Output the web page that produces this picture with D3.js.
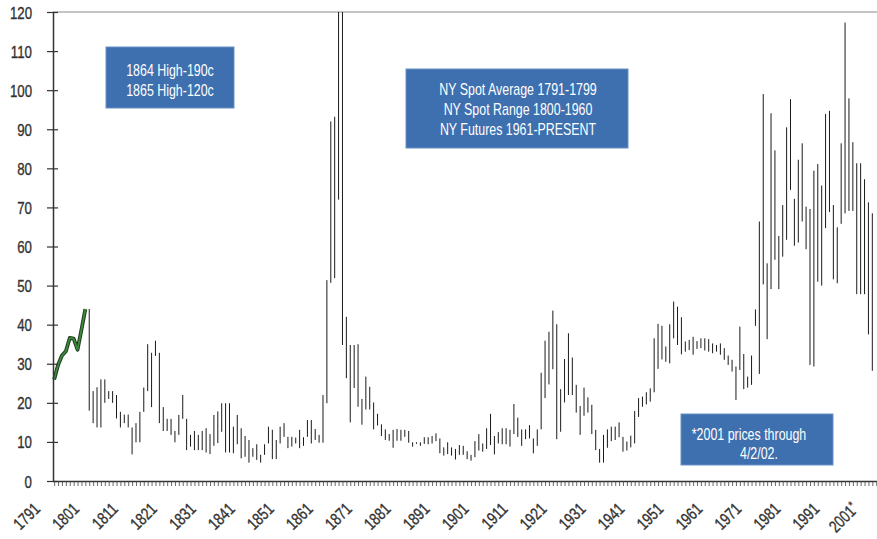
<!DOCTYPE html>
<html><head><meta charset="utf-8">
<script src="https://cdn.jsdelivr.net/npm/d3@7/dist/d3.min.js"></script>
<style>
html,body{margin:0;padding:0;background:#fff;}
svg{display:block;}
text{font-family:"Liberation Sans",Arial,sans-serif;}
</style></head><body>
<svg id="chart" width="877" height="539"></svg>
<script>
// ---- DATA ----
const avgYears = [1791,1792,1793,1794,1795,1796,1797,1798,1799];
const avgValues = [26,29.7,32.1,33.2,36.6,36.4,33.6,38.7,44];

const rangeStartYear = 1800;
const highs = [
44,23,24,26,26,23,23,22,17.7,17,
17,13.7,14.8,17.7,23.9,35,32.8,35.9,32.8,18.9,
15.9,15.9,12.8,16.9,22,15.9,11.8,12.8,11.8,12.8,
13.5,12,16.9,17.8,19.9,19.9,19.9,13.9,16.9,13.5,
11.5,10.5,8.4,9.4,6.7,9.4,13.9,13.1,10.5,13.9,
14.8,11.3,11.3,11.1,13.1,11.2,15.6,15.6,13.3,11.8,
22,51.4,92,93.2,190,120,42,34.8,34.8,35,
21,26.7,24.1,20.1,17.2,14.5,13.2,12,13.1,13.3,
13.1,13.1,12.8,9.9,9.9,9.9,11.2,11.2,11.5,12.2,
10.9,8.6,9.9,8.6,8.2,9.2,9,7.6,6.7,10.2,
12,9.6,13.5,17.2,11.5,12.5,13.5,13.5,13.1,19.7,
16.2,13.2,13.2,14.3,10.9,13.2,27.7,35.9,38.2,43.6,
40.1,23.5,31.2,37.8,31.6,24.6,19.2,23.9,21.4,19.5,
13.1,8.2,11.8,13.2,13.9,13.9,15,11.3,10.1,11.6,
17.9,21.2,21.6,22.7,23.7,36.5,40.2,39.7,34.4,40.1,
45.9,44.6,41.9,35.7,36.1,36.9,35.8,36.5,36.5,36.3,
35.2,34.8,35.2,34,32.1,31,29.3,39.5,32.5,26.7,
32.1,43.9,66.4,99,55.7,94.1,84.6,62.7,70.6,90.5,
97.7,72.2,82.2,86.4,70.2,69.6,79.4,81.1,75.6,93.9,
94.7,70.6,64.9,86.4,117.3,97.9,86.7,81.3,81.3,77.2,
71.3,68.5];
const lows = [
18,14.8,13.7,13.7,20,21,20,16,13.7,14.8,
13.7,6.8,9.9,9.9,17.7,23,18.9,32,14.8,12.8,
12.8,11.8,9.9,11.8,15.9,7.9,8.8,7.9,7.9,7.9,
7.3,6.9,9,9.7,12.6,7.3,7.3,7.1,9.4,5.8,
6.2,4.7,6.2,5.4,4.7,6.7,9.6,5.6,5.6,9.6,
11.3,8.4,8.8,9.6,8.4,9,11.3,9.6,10.5,9.8,
9.8,19.9,50.7,51.9,72,34.8,26.3,15,23.8,19,
14.4,18.3,18.3,13.2,14.2,11.5,10.5,10.3,8.5,10.3,
10.3,11.3,9.8,8.8,9.5,9,9.5,9.4,9.6,10.2,
7.1,6.5,6.9,6.5,5.5,6.7,6.7,5.6,5.2,6.1,
7.8,7.5,8.2,9.2,6.8,9.6,9.4,9.4,8.8,12,
11.3,9,10.7,10.9,7.1,9,13.2,21.2,24.7,28.6,
10.7,12.6,20.1,22,22,17.5,11.8,16.7,17.5,12,
7.9,4.7,4.7,8.5,10.2,10.5,11.2,7.5,7.8,8.6,
9.6,16.4,19,19.6,20.3,22.7,28.7,31.1,30.5,30.1,
36.5,34.8,32.4,33.1,33.5,32.3,33.8,34,33.4,33.1,
32.7,33.1,32.3,31,29.7,28,20.7,28.4,23.5,23.9,
24.6,39.7,27.4,50.3,36.3,49.1,56.6,49.1,57.4,61.7,
74.5,60.2,61,66.4,59.3,29.7,29.3,51,50,64.7,
68.8,51.6,50.6,65.8,68.5,69.1,69.1,47.8,47.8,47.8,
37.5,28.2];

const yTicks = [0,10,20,30,40,50,60,70,80,90,100,110,120];
const xLabelYears = [1791,1801,1811,1821,1831,1841,1851,1861,1871,1881,1891,1901,1911,1921,1931,1941,1951,1961,1971,1981,1991,2001];
const xLabelTexts = ["1791","1801","1811","1821","1831","1841","1851","1861","1871","1881","1891","1901","1911","1921","1931","1941","1951","1961","1971","1981","1991","2001"];
const xLabelMarks = ["","","","","","","","","","","","","","","","","","","","","","*"];
const minorTickYears = d3.range(1791, 2003);

const note1Lines = ["1864 High-190c","1865 High-120c"];
const note2Lines = ["NY Spot Average 1791-1799","NY Spot Range 1800-1960","NY Futures 1961-PRESENT"];
const note3Lines = ["*2001 prices through","4/2/02."];

// ---- CHART ----
(function(){
const svg = d3.select("#chart");
const pL = 53, pR = 877, pT = 12, pB = 481;
const x = d3.scaleLinear().domain([1790.7, 2002.2]).range([pL, pR]);
const y = d3.scaleLinear().domain([0, 120]).range([pB, pT]);
const SX = 0.78; // horizontal squeeze to imitate a condensed face

svg.append("defs").append("clipPath").attr("id","plotclip")
  .append("rect").attr("x", pL).attr("y", pT).attr("width", pR-pL).attr("height", pB-pT);

// top border line
svg.append("line").attr("x1", pL).attr("x2", pR).attr("y1", y(120)).attr("y2", y(120))
  .attr("stroke", "#8a8a8a").attr("stroke-width", 1.2);

// range bars
const rangeData = highs.map((h,i)=>({year: rangeStartYear+i, hi: h, lo: lows[i]}));
svg.append("g").attr("clip-path","url(#plotclip)")
  .selectAll("line").data(rangeData).join("line")
  .attr("x1", d=>x(d.year)).attr("x2", d=>x(d.year))
  .attr("y1", d=>y(d.lo)).attr("y2", d=>y(d.hi))
  .attr("stroke", "#1a1a1a").attr("stroke-width", 1);

// average line
const avgData = avgYears.map((yr,i)=>({year: yr, v: avgValues[i]}));
const lineGen = d3.line().x(d=>x(d.year)).y(d=>y(d.v));
svg.append("path").datum(avgData).attr("d", lineGen)
  .attr("fill","none").attr("stroke","#1f3a1f").attr("stroke-width",3.8).attr("stroke-linejoin","round");
svg.append("path").datum(avgData).attr("d", lineGen)
  .attr("fill","none").attr("stroke","#3d8a3d").attr("stroke-width",1.8).attr("stroke-linejoin","round");

// y axis
const yAxis = d3.axisLeft(y).tickValues(yTicks).tickSize(0).tickFormat("");
const gy = svg.append("g").attr("transform", `translate(${pL},0)`).call(yAxis);
gy.select(".domain").attr("stroke","#333").attr("stroke-width",1.5);
gy.selectAll(".tick line").remove();
gy.selectAll(".tick text").remove();
gy.selectAll(".tick").append("line").attr("x1",-6).attr("x2",5).attr("stroke","#333").attr("stroke-width",1.2);
gy.selectAll(".tick").append("text")
  .attr("transform", `translate(-21,6) scale(${SX},1)`)
  .attr("text-anchor","end").attr("fill","#333").attr("stroke","#333").attr("stroke-width",0.35)
  .attr("font-size",17)
  .text(d=>d3.format("d")(d));

// x axis
const xAxis = d3.axisBottom(x).tickValues(minorTickYears).tickSize(5).tickFormat("");
const gx = svg.append("g").attr("transform", `translate(0,${pB})`).call(xAxis);
gx.select(".domain").attr("stroke","#333").attr("stroke-width",1.5).attr("d", `M${pL},0.5H${pR}`);
gx.selectAll(".tick line").attr("stroke","#444").attr("stroke-width",0.8);

// x labels
const xl = svg.append("g").selectAll("text").data(xLabelYears).join("text")
  .attr("transform", d=>`translate(${x(d)-13},${pB+29}) rotate(-45) scale(${SX},1)`)
  .attr("text-anchor","end").attr("fill","#333").attr("stroke","#333").attr("stroke-width",0.35)
  .attr("font-size",17);
xl.append("tspan").text((d,i)=>xLabelTexts[i]);
xl.append("tspan").text((d,i)=>xLabelMarks[i]).attr("font-size",12).attr("dy",-5);

// annotation boxes
function note(bx, by, bw, bh, lines, xs, firstBaseline, lh){
  const g = svg.append("g");
  g.append("rect").attr("x",bx).attr("y",by).attr("width",bw).attr("height",bh)
    .attr("fill","#3e6fae").attr("stroke","#6a91c6").attr("stroke-width",1);
  g.selectAll("text").data(lines).join("text")
    .attr("transform",(d,i)=>`translate(${xs[i]},${firstBaseline + i*lh}) scale(0.73,1)`)
    .attr("text-anchor","middle").attr("fill","#fff").attr("font-size",17)
    .text(d=>d);
}
note(106, 47, 128, 61, note1Lines, [170,170], 76, 20);
note(406, 69, 222, 79, note2Lines, [518,518,518], 95, 20);
note(681, 414, 152, 51, note3Lines, [749, 759], 440, 19);
})();
</script>
</body></html>
